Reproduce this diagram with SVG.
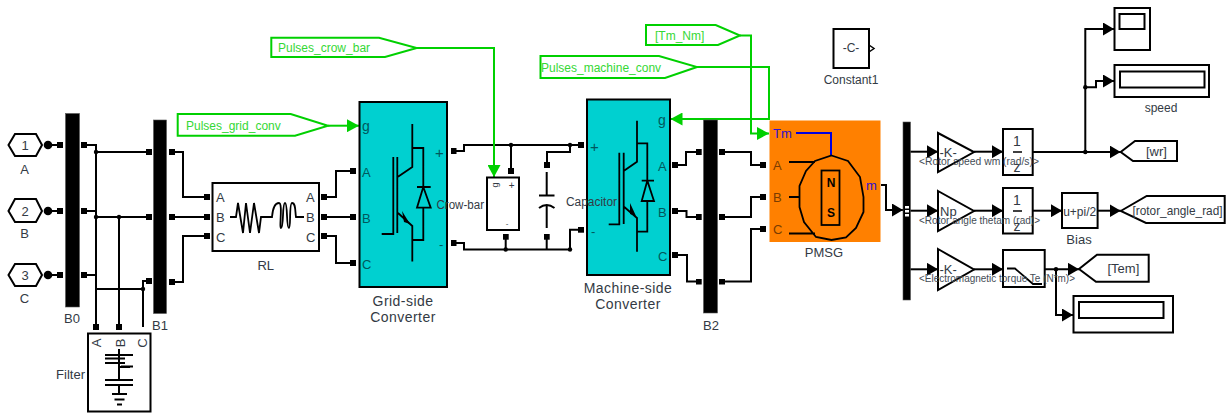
<svg xmlns="http://www.w3.org/2000/svg" width="1227" height="413" viewBox="0 0 1227 413">
<style>
text{font-family:"Liberation Sans",Arial,sans-serif;font-size:13px;fill:#333a44}
.m{text-anchor:middle}
.s{fill:none;stroke:#000;stroke-width:1.8}
.t{fill:none;stroke:#000;stroke-width:2}
.w{fill:none;stroke:#000;stroke-width:2}
.b{fill:#000;stroke:#555;stroke-width:.6}
.box{fill:#fff;stroke:#000;stroke-width:2}
.gr{fill:#fff;stroke:#00d000;stroke-width:2}
.g{fill:none;stroke:#00d000;stroke-width:2}
.gt{fill:#35d835;font-size:12px}
.c{fill:#00d0d0;stroke:#000;stroke-width:2}
.ct{fill:#00585c}
.ot{fill:#7a3c00}
.bt{fill:#3010d0}
.lb{font-size:14px;letter-spacing:.45px}
.sm{font-size:10.500px;fill:#444c55}
</style>
<defs>
<marker id="sq" markerUnits="userSpaceOnUse" markerWidth="6" markerHeight="6" refX="3" refY="3"><rect width="6" height="6" fill="#000"/></marker>
<marker id="ah" markerUnits="userSpaceOnUse" markerWidth="11" markerHeight="13" refX="11" refY="6.500" orient="auto"><path d="M0 0L11 6.500L0 13z" fill="#000"/></marker>
<marker id="ag" markerUnits="userSpaceOnUse" markerWidth="13" markerHeight="13" refX="12" refY="6.500" orient="auto"><path d="M0 0L12 6.500L0 13z" fill="#00d000"/></marker>
<circle id="dot" r="2.200" fill="#000"/>
</defs>

<g id="connectors">
<path class="w" marker-end="url(#sq)" d="M48 145H60"/>
<path class="w" marker-end="url(#sq)" d="M48 211H60"/>
<path class="w" marker-end="url(#sq)" d="M48 275H60"/>
<path class="w" marker-start="url(#sq)" marker-end="url(#sq)" d="M84 145H96V327"/>
<path class="w" marker-end="url(#sq)" d="M96 152H149"/>
<path class="w" marker-start="url(#sq)" d="M84 211H96"/>
<path class="w" marker-end="url(#sq)" d="M96 217H149"/>
<path class="w" marker-end="url(#sq)" d="M119 217V327"/>
<path class="w" marker-start="url(#sq)" d="M84 275H96"/>
<path class="w" d="M96 289H143"/>
<path class="w" marker-end="url(#sq)" d="M143 327V281H149"/>
<path class="w" marker-start="url(#sq)" marker-end="url(#sq)" d="M172 152H183V197H207"/>
<path class="w" marker-start="url(#sq)" marker-end="url(#sq)" d="M172 217H207"/>
<path class="w" marker-start="url(#sq)" marker-end="url(#sq)" d="M172 282H183V236H207"/>
<path class="w" marker-start="url(#sq)" marker-end="url(#sq)" d="M324 197H336V171H353"/>
<path class="w" marker-start="url(#sq)" marker-end="url(#sq)" d="M324 217H353"/>
<path class="w" marker-start="url(#sq)" marker-end="url(#sq)" d="M324 236H336V263H353"/>
<path class="w" marker-start="url(#sq)" marker-end="url(#sq)" d="M453.500 151H464V145H581"/>
<path class="w" marker-start="url(#sq)" marker-end="url(#sq)" d="M453.500 243H464V249.500H570V229.700H581"/>
<path class="w" marker-end="url(#sq)" d="M511 145V171"/>
<path class="w" marker-end="url(#sq)" d="M570 145V152H547V165"/>
<path class="w" marker-end="url(#sq)" d="M505.700 249.500V236.700"/>
<path class="w" marker-end="url(#sq)" d="M546.700 249.500V236.700"/>
<path class="w" marker-start="url(#sq)" marker-end="url(#sq)" d="M675 165H686V152H698.700"/>
<path class="w" marker-start="url(#sq)" marker-end="url(#sq)" d="M675 211H686.500V217H698.700"/>
<path class="w" marker-start="url(#sq)" marker-end="url(#sq)" d="M675 255H687V281.500H698.700"/>
<path class="w" marker-start="url(#sq)" marker-end="url(#sq)" d="M722 152H751V165H763"/>
<path class="w" marker-start="url(#sq)" marker-end="url(#sq)" d="M722 217H751V197H763"/>
<path class="w" marker-start="url(#sq)" marker-end="url(#sq)" d="M722 281.500H751V229H763"/>
<path class="w" marker-end="url(#ah)" d="M881 185H886V210H903"/>
<path class="w" marker-end="url(#ah)" d="M910 151.700H938"/>
<path class="w" marker-end="url(#ah)" d="M910 210.700H938"/>
<path class="w" marker-end="url(#ah)" d="M910 269.300H938"/>
<path class="w" marker-end="url(#ah)" d="M974 151.700H1003"/>
<path class="w" marker-end="url(#ah)" d="M974 210.700H1003"/>
<path class="w" marker-end="url(#ah)" d="M974 269.300H1003"/>
<path class="w" marker-end="url(#ah)" d="M1032.700 152H1120.700"/>
<path class="w" marker-end="url(#ah)" d="M1032.700 210.700H1062"/>
<path class="w" marker-end="url(#ah)" d="M1097.600 210.700H1120.700"/>
<path class="w" marker-end="url(#ah)" d="M1044.700 269.300H1079"/>
<path class="w" marker-end="url(#ah)" d="M1056 269.300V315H1073"/>
<path class="w" marker-end="url(#ah)" d="M1085.300 152V29H1114"/>
<path class="w" marker-end="url(#ah)" d="M1085.300 87.300H1096V81H1114"/>
<use href="#dot" x="96" y="152"/><use href="#dot" x="96" y="217"/><use href="#dot" x="119" y="217"/><use href="#dot" x="143" y="289"/>
<use href="#dot" x="511" y="145"/><use href="#dot" x="570" y="145"/><use href="#dot" x="505.700" y="249.500"/><use href="#dot" x="570" y="249.500"/>
<use href="#dot" x="1085.300" y="152"/><use href="#dot" x="1085.300" y="87.300"/><use href="#dot" x="1056" y="269.300"/>
<path class="g" marker-end="url(#ag)" d="M328 125.700H359"/>
<path class="g" marker-end="url(#ag)" d="M416.700 48H494V177"/>
<path class="g" marker-end="url(#ag)" d="M740 35.500H751V133.500H769"/>
<path class="g" marker-end="url(#ag)" d="M697 67H769V119H670.500"/>
</g>

<g id="port-A"><path class="box" d="M8.500 145L15 134H36L42 145L36 156H15z"/><circle cx="48" cy="145" r="4.300"/><text class="m" x="25" y="150">1</text><text class="m" x="24.500" y="174">A</text></g>
<g id="port-B"><path class="box" d="M8.500 211L15 199H36L42 211L36 222H15z"/><circle cx="48" cy="211" r="4.300"/><text class="m" x="25" y="216">2</text><text class="m" x="24.500" y="238">B</text></g>
<g id="port-C"><path class="box" d="M8.500 275L15 264H36L42 275L36 286H15z"/><circle cx="48" cy="275" r="4.300"/><text class="m" x="25" y="280">3</text><text class="m" x="24.500" y="303">C</text></g>

<g id="B0"><rect class="b" x="65.500" y="113.500" width="14" height="193.500"/><text class="m" x="72" y="323">B0</text></g>
<g id="B1"><rect class="b" x="153.500" y="120" width="13" height="193.500"/><text class="m" x="160" y="330">B1</text></g>
<g id="B2"><rect class="b" x="703.500" y="120" width="14" height="193"/><text class="m" x="711" y="330">B2</text></g>

<g id="Filter">
<rect class="box" x="88" y="333.500" width="62.500" height="78"/>
<text x="101" y="343" class="m" transform="rotate(-90 101 343)">A</text>
<text x="125" y="343" class="m" transform="rotate(-90 125 343)">B</text>
<text x="147" y="343" class="m" transform="rotate(-90 147 343)">C</text>
<path class="t" d="M119 349V380M105 355H133M105 358.500H125M105 363H125M121 366.500H133M119 367H130M105 380H133M105 385H133M119 385V394M112 394H127M114.500 399.500H124.500M117 404.500H122"/>
<text x="85" y="379" text-anchor="end">Filter</text>
</g>

<g id="RL">
<rect class="box" x="212.500" y="183" width="106.500" height="68"/>
<text x="216" y="202">A</text><text x="216" y="222">B</text><text x="216" y="242">C</text>
<text x="306" y="202">A</text><text x="306" y="222">B</text><text x="306" y="242">C</text>
<path class="s" d="M230 217H236L238 203L243 233L246 203L250 233L254 203L259 233L261 217H272C273 205 276 203 279 203C283 203 279 228 281 228C284 228 282 203 285 203C288 203 286 228 289 228C291 228 289 203 292 203C296 203 295 212 296 217H304"/>
<text class="m" x="265.700" y="270">RL</text>
</g>

<g id="Grid-side-Converter">
<rect class="c" x="359.500" y="102" width="87.500" height="185"/>
<path class="s" d="M412.300 124V167L398 176.700M397.300 157V233M393.300 157V234H381.700M398 213L412.300 226V261.500M412.300 148H423.300V187M417 187H430.700M423.300 187L417 207.700H430.700ZM423.300 207.700V240H412.300"/>
<path d="M402 211L410 224L404 222z" fill="#000"/>
<text class="ct" x="362" y="131" style="font-size:14px">g</text>
<text class="ct" x="362" y="177">A</text><text class="ct" x="362" y="223">B</text><text class="ct" x="362" y="269">C</text>
<text class="ct" x="435" y="158" style="font-size:15px">+</text><text class="ct" x="439" y="249">-</text>
<text class="m lb" x="403" y="306">Grid-side</text><text class="m lb" x="403" y="322">Converter</text>
</g>

<g id="Crow-bar">
<rect class="box" x="487" y="177.500" width="32" height="52.500"/>
<text class="m" x="495" y="188" transform="rotate(-90 495 185)" style="font-size:9px">g</text>
<text class="m" x="511.700" y="189" style="font-size:10px">+</text>
<text class="m" x="507" y="226" style="font-size:8px">-</text>
</g>

<g id="Capacitor">
<path class="t" d="M546.700 172V195M539 195.500H554.500M539 208Q546.700 202 554.500 208M546.700 205V228"/>
</g>

<g id="Machine-side-Converter">
<rect class="c" x="587" y="99.500" width="83" height="175.500"/>
<path class="s" d="M637 120.700V161.700L624 170.700M623.700 152.700V224M619.300 152.700V224.300H608.700M624 206.700L637 218V251.700M637 143.300H647.300V180.700M641.700 180.700H654M647.300 180.700L641.700 201H654ZM647.300 201V231.700H637"/>
<path d="M630 203L636 216L630 214z" fill="#000"/>
<text class="ct" x="658" y="125" style="font-size:14px">g</text>
<text class="ct" x="658" y="171">A</text><text class="ct" x="658" y="217">B</text><text class="ct" x="658" y="261">C</text>
<text class="ct" x="590" y="152" style="font-size:15px">+</text><text class="ct" x="591" y="236">-</text>
<text class="m lb" x="628" y="293">Machine-side</text><text class="m lb" x="628" y="309">Converter</text>
</g>

<g id="labels-over-blocks">
<text x="436.500" y="209" textLength="47.500" lengthAdjust="spacingAndGlyphs" style="font-size:12px">Crow-bar</text>
<text x="566" y="206" textLength="51" lengthAdjust="spacingAndGlyphs" style="font-size:12px">Capacitor</text>
</g>

<g id="PMSG">
<rect x="769.500" y="120.500" width="111" height="121.500" fill="#ff8000"/>
<path d="M796 133H831V156" fill="none" stroke="#0000e0" stroke-width="2"/>
<text class="bt" x="773" y="138">Tm</text><text class="bt" x="866" y="190">m</text>
<text class="ot" x="773" y="170">A</text><text class="ot" x="773" y="202">B</text><text class="ot" x="773" y="234">C</text>
<path class="s" d="M831.500 155.500L848 161L860 177L863.500 197V212L856 228L846 237.500L831.500 240L816 237L804 222L799.500 207V186L806 171L815 161ZM789 162H815M789 197H800M789 233.500H815"/>
<rect x="821.500" y="170.500" width="18" height="54.500" fill="none" stroke="#000" stroke-width="1.800"/>
<text class="m" x="831" y="187" style="font-size:12px;font-weight:bold;fill:#000">N</text>
<text class="m" x="831" y="217" style="font-size:12px;font-weight:bold;fill:#000">S</text>
<text class="m" x="824" y="257">PMSG</text>
</g>

<g id="Demux">
<rect class="b" x="903" y="122" width="7.500" height="178"/>
<rect x="905" y="206" width="4" height="2.500" fill="#fff"/><rect x="905" y="210" width="4" height="2.500" fill="#fff"/><rect x="905" y="214" width="4" height="2.500" fill="#fff"/>
</g>

<g id="Pulses_grid_conv"><path class="gr" d="M177.700 114H290.700L328 125.700L295 135.700H177.700z"/><text class="gt" x="186" y="130">Pulses_grid_conv</text></g>
<g id="Pulses_crow_bar"><path class="gr" d="M271.300 37.700H379L416.700 48L385 57H271.300z"/><text class="gt" x="278" y="52">Pulses_crow_bar</text></g>
<g id="Pulses_machine_conv"><path class="gr" d="M540.500 56H659L697 67L665 78H540.500z"/><text class="gt" x="541" y="72">Pulses_machine_conv</text></g>
<g id="Tm_Nm"><path class="gr" d="M646 25H715.700L740 35.500L718 45H646z"/><text class="gt" x="655" y="40">[Tm_Nm]</text></g>

<g id="Constant1"><rect class="box" x="833.500" y="29" width="35.500" height="39"/><text class="m" x="851" y="52" style="font-size:12px">-C-</text><path d="M869 45L874 48.500L869 52" fill="none" stroke="#000" stroke-width="1.500"/><text class="m" x="851" y="84" style="font-size:12px">Constant1</text></g>
<g id="Scope"><rect class="box" x="1114.500" y="8" width="35.500" height="42"/><rect class="box" x="1119.500" y="14" width="25" height="15"/></g>
<g id="speed"><rect class="box" x="1114.500" y="65" width="94.500" height="32"/><rect class="box" x="1120" y="71.500" width="84.500" height="16"/><text class="m" x="1161" y="112" style="font-size:12px">speed</text></g>

<g id="Gain1"><path class="box" d="M938 133L974 152L938 172z"/><text x="939.500" y="157">-K-</text></g>
<g id="Gain2"><path class="box" d="M938 191L974 211L938 231z"/><text x="940" y="216">Np</text></g>
<g id="Gain3"><path class="box" d="M938 249L974 269.500L938 290z"/><text x="939.500" y="274">-K-</text></g>
<g id="Integrator1"><rect class="box" x="1003" y="129" width="29.700" height="46"/><text class="m" x="1017" y="146" style="font-size:14px">1</text><path d="M1013 152H1022" stroke="#000" stroke-width="1.500"/><text class="m" x="1017" y="172" style="font-size:14px">z</text></g>
<g id="Integrator2"><rect class="box" x="1003" y="188" width="29.700" height="45.500"/><text class="m" x="1017" y="205" style="font-size:14px">1</text><path d="M1013 211H1022" stroke="#000" stroke-width="1.500"/><text class="m" x="1017" y="231" style="font-size:14px">z</text></g>
<g id="Saturation"><rect class="box" x="1003" y="250" width="41.700" height="37"/><path class="s" d="M1007 268.500H1015L1033 284H1042"/></g>
<g id="Bias"><rect class="box" x="1062" y="193" width="35.600" height="35"/><text class="m" x="1079.700" y="216" textLength="33" lengthAdjust="spacingAndGlyphs">u+pi/2</text><text class="m" x="1079" y="244">Bias</text></g>
<g id="Goto-wr"><path class="box" d="M1120.700 152L1135 141H1177V161H1133z"/><text x="1146" y="156">[wr]</text></g>
<g id="Goto-rotor"><path class="box" d="M1120.700 211L1146.700 196H1224.700V223H1146z"/><text x="1132.500" y="215" textLength="90" lengthAdjust="spacingAndGlyphs">[rotor_angle_rad]</text></g>
<g id="Goto-Tem"><path class="box" d="M1079 269L1097 254.700H1148.700V281.700H1096z"/><text x="1107.500" y="273">[Tem]</text></g>
<g id="Display"><rect class="box" x="1073.500" y="296" width="99.500" height="36.500"/><rect class="box" x="1079" y="302" width="84.500" height="16"/></g>
<g id="signal-labels">
<text class="sm" x="919" y="165" textLength="120" lengthAdjust="spacingAndGlyphs">&lt;Rotor speed wm (rad/s)&gt;</text>
<text class="sm" x="919" y="224" textLength="121" lengthAdjust="spacingAndGlyphs">&lt;Rotor angle thetam (rad)&gt;</text>
<text class="sm" x="919" y="282" textLength="156" lengthAdjust="spacingAndGlyphs">&lt;Electromagnetic torque Te (N*m)&gt;</text>
</g>
</svg>
